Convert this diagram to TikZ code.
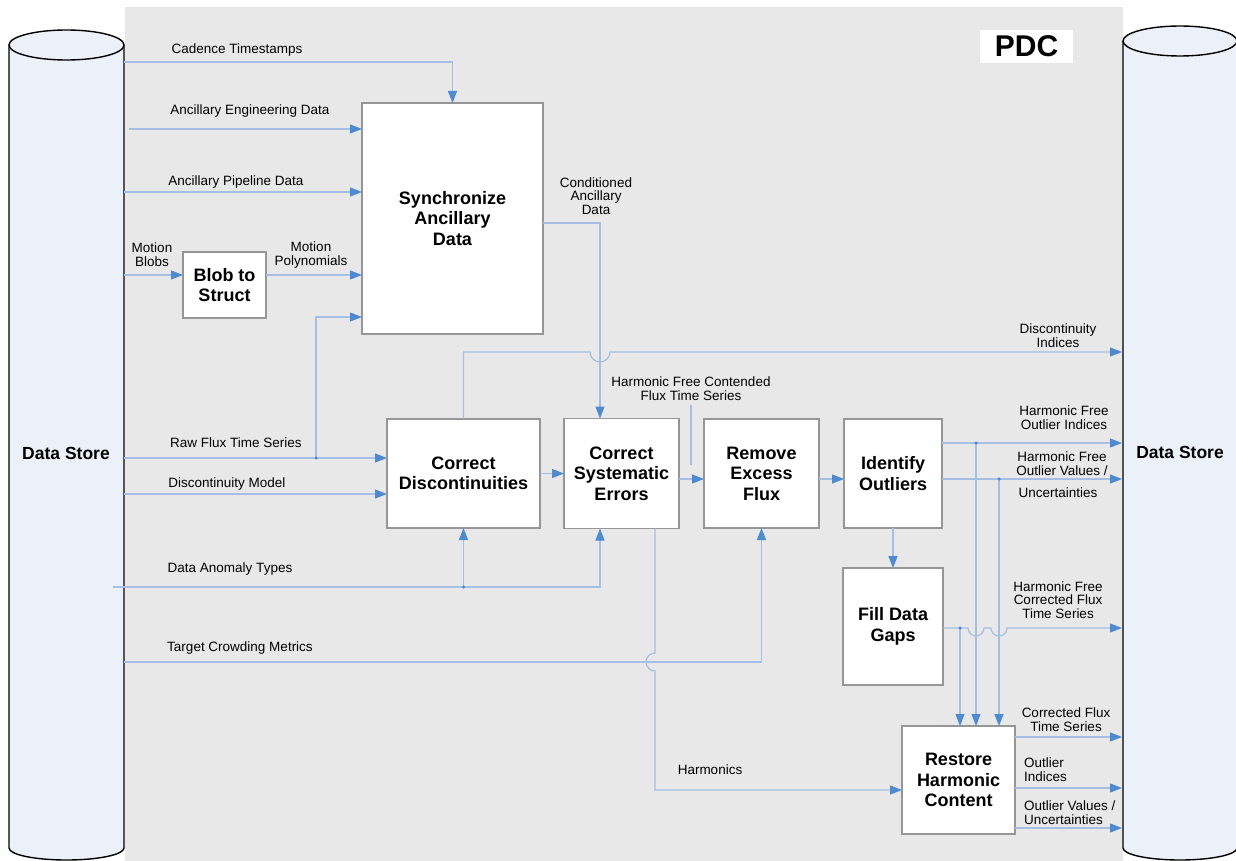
\documentclass[tikz,border=0pt]{standalone}
\usepackage{fontspec}
\setmainfont{Liberation Sans}
\usetikzlibrary{arrows.meta,positioning,calc}
\definecolor{pdcgrey}{RGB}{232,232,232}
\definecolor{storeblue}{RGB}{236,240,248}
\definecolor{flowline}{RGB}{164,190,228}
\definecolor{flowtip}{RGB}{78,138,210}
\definecolor{boxedge}{RGB}{150,150,150}

\begin{document}
\begin{tikzpicture}[x=1pt, y=-1pt,
    procbox/.style={rectangle, draw=boxedge, fill=white, line width=1.2pt, outer sep=0pt,
        font=\fontsize{18}{20.5}\selectfont\bfseries, align=center, inner sep=0pt},
    flow/.style={draw=flowline, line width=1.2pt,
        -{Triangle[length=12pt, width=9pt, color=flowtip]}},
    lead/.style={draw=flowline, line width=1.2pt},
    lbl/.style={font=\fontsize{13.5}{13.8}\selectfont, align=center, inner sep=0pt},
    joint/.style={circle, fill=flowtip, inner sep=0pt, minimum size=3.5pt},
    store/.style={fill=storeblue, draw=black, line width=1.4pt}
]
    \useasboundingbox (0,0) rectangle (1236,861);
    \fill[pdcgrey] (125,7) rectangle (1123,861);

    % data stores
    \path[store] (9,45) -- (9,848) arc[start angle=180, end angle=0, x radius=57.5, y radius=12] -- (124,45);
    \draw[store] (66.5,45) ellipse[x radius=57.5, y radius=15];
    \path[store] (1123,41) -- (1123,848) arc[start angle=180, end angle=0, x radius=57, y radius=12] -- (1237,41);
    \draw[store] (1180,41) ellipse[x radius=57, y radius=15];
    \node[font=\fontsize{17.5}{20}\selectfont\bfseries] (storeL) at (66,453) {Data Store};
    \node[font=\fontsize{17.5}{20}\selectfont\bfseries] (storeR) at (1180,452) {Data Store};
    \node[fill=white, minimum width=93, minimum height=33, inner sep=0pt,
        font=\fontsize{30}{30}\selectfont\bfseries] (pdc) at (1026.5,46.5) {PDC};

    % processing steps
    \node[procbox, minimum width=181, minimum height=231] (sync) at (452.5,218.5) {Synchronize\\Ancillary\\Data};
    \node[procbox, minimum width=83, minimum height=66] (blob) at (224.5,285) {Blob to\\Struct};
    \node[procbox, minimum width=153, minimum height=109] (cd) at (463.5,473.5) {Correct\\Discontinuities};
    \node[procbox, minimum width=115, minimum height=110, right=24pt of cd] (cse) {Correct\\Systematic\\Errors};
    \node[procbox, minimum width=115, minimum height=109, right=25pt of cse] (ref) {Remove\\Excess\\Flux};
    \node[procbox, minimum width=98, minimum height=109, right=25pt of ref] (io) {Identify\\Outliers};
    \node[procbox, minimum width=100, minimum height=117, below=40pt of io] (fdg) {Fill Data\\Gaps};
    \node[procbox, minimum width=113, minimum height=108] (rhc) at (958.5,780) {Restore\\Harmonic\\Content};

    % labels
    \node[lbl] (cadLbl) at (237,50) {Cadence Timestamps};
    \node[lbl] (engLbl) at (250,111) {Ancillary Engineering Data};
    \node[lbl] (pipeLbl) at (236,182) {Ancillary Pipeline Data};
    \node[lbl] (blobLbl) at (152,255) {Motion\\Blobs};
    \node[lbl] (polyLbl) at (311,255) {Motion\\Polynomials};
    \node[lbl] (rawLbl) at (236,443) {Raw Flux Time Series};
    \node[lbl] (modelLbl) at (227,484) {Discontinuity Model};
    \node[lbl] (anomLbl) at (230,569) {Data Anomaly Types};
    \node[lbl] (crowdLbl) at (240,648) {Target Crowding Metrics};
    \node[lbl] (condLbl) at (596,196) {Conditioned\\Ancillary\\Data};
    \node[lbl] (hfcLbl) at (691,389) {Harmonic Free Contended\\Flux Time Series};
    \node[lbl] (discLbl) at (1058,336) {Discontinuity\\Indices};
    \node[lbl] (hfoiLbl) at (1064,418) {Harmonic Free\\Outlier Indices};
    \node[lbl] (hfovLbl) at (1062,464) {Harmonic Free\\Outlier Values /};
    \node[lbl] (uncLbl) at (1058,493) {Uncertainties};
    \node[lbl] (hfcfLbl) at (1058,600) {Harmonic Free\\Corrected Flux\\Time Series};
    \node[lbl] (harmLbl) at (710,770) {Harmonics};
    \node[lbl] (cftsLbl) at (1066,720) {Corrected Flux\\Time Series};
    \node[lbl, anchor=west, align=left] (oiLbl) at (1024,770) {Outlier\\Indices};
    \node[lbl, anchor=west, align=left] (ovLbl) at (1024,813) {Outlier Values /\\Uncertainties};

    % inputs from the left store
    \coordinate (cadIn) at (124,62);
    \coordinate (engIn) at (129,129);
    \coordinate (pipeIn) at (124,192);
    \coordinate (blobIn) at (124,275);
    \coordinate (rawIn) at (124,458);
    \coordinate (rawJ) at (316,458);
    \coordinate (modelIn) at (124,494);
    \coordinate (anomIn) at (113,587);
    \coordinate (crowdIn) at (124,662);
    \coordinate (condX) at (600,223);
    \coordinate (discY) at (600,352);
    \coordinate (harmX) at (655,790);
    \coordinate (rowY) at (0,479);
    % outputs to the right store
    \coordinate (discOut) at (1122,352);
    \coordinate (hfoiOut) at (1122,443);
    \coordinate (hfovOut) at (1122,479);
    \coordinate (hfcfOut) at (1122,628);
    \coordinate (cftsOut) at (1122,737);
    \coordinate (oiOut) at (1122,788);
    \coordinate (ovOut) at (1122,828);
    \coordinate (hfoiJ) at (976,443);
    \coordinate (hfovJ) at (999,479);
    \coordinate (hfcfJ) at (960,628);

    \draw[flow] (cadIn) -| (sync.north);
    \draw[flow] (engIn) -- (engIn -| sync.west);
    \draw[flow] (pipeIn) -- (pipeIn -| sync.west);
    \draw[flow] (blobIn) -- (blobIn -| blob.west);
    \draw[flow] (blob.east |- blobIn) -- (blobIn -| sync.west);
    \draw[flow] (rawIn) -- (rawIn -| cd.west);
    \draw[flow] (rawJ) |- ($(sync.south west)+(0,-17)$);
    \draw[flow] (modelIn) -- (modelIn -| cd.west);
    \draw[flow] (anomIn) -| (condX |- cse.south);
    \draw[flow] (cd.south |- anomIn) -- (cd.south);
    \draw[flow] (crowdIn) -| (ref.south);
    \draw[flow] (sync.east |- condX) -- (condX) -- (condX |- cse.north);
    \draw[flow] (cd.north) |- ($(discY)+(-10,0)$) arc[start angle=180, end angle=0, radius=10] -- (discOut);
    \draw[flow] (cd.east) -- (cd.east -| cse.west);
    \draw[flow] (cse.east |- rowY) -- (rowY -| ref.west);
    \draw[flow] (ref.east |- rowY) -- (rowY -| io.west);
    \draw[flow] (io.south) -- (fdg.north);
    \draw[flow] (io.east |- hfoiOut) -- (hfoiOut);
    \draw[flow] (io.east |- hfovOut) -- (hfovOut);
    \draw[flow] (hfoiJ) -- (hfoiJ |- rhc.north);
    \draw[flow] (hfovJ) -- (hfovJ |- rhc.north);
    \draw[flow] (fdg.east |- hfcfOut) -- ($(hfoiJ |- hfcfOut)+(-8,0)$) arc[start angle=180, end angle=0, radius=8]
        -- ($(hfovJ |- hfcfOut)+(-8,0)$) arc[start angle=180, end angle=0, radius=8] -- (hfcfOut);
    \draw[flow] (hfcfJ) -- (hfcfJ |- rhc.north);
    \draw[flow] (cse.south -| harmX) -- ($(harmX |- crowdIn)+(0,-9)$) arc[start angle=270, end angle=90, radius=9]
        -- (harmX) -- (harmX -| rhc.west);
    \draw[flow] (rhc.east |- cftsOut) -- (cftsOut);
    \draw[flow] (rhc.east |- oiOut) -- (oiOut);
    \draw[flow] (rhc.east |- ovOut) -- (ovOut);
    \draw[lead] ($(hfcLbl.south)+(0,4)$) -- ($(hfcLbl.south)+(0,64)$);

    % junctions
    \node[joint] (rawDot) at (rawJ) {};
    \node[joint] (anomDot) at (cd.south |- anomIn) {};
    \node[joint] (hfoiDot) at (hfoiJ) {};
    \node[joint] (hfovDot) at (hfovJ) {};
    \node[joint] (hfcfDot) at (hfcfJ) {};
\end{tikzpicture}
\end{document}
